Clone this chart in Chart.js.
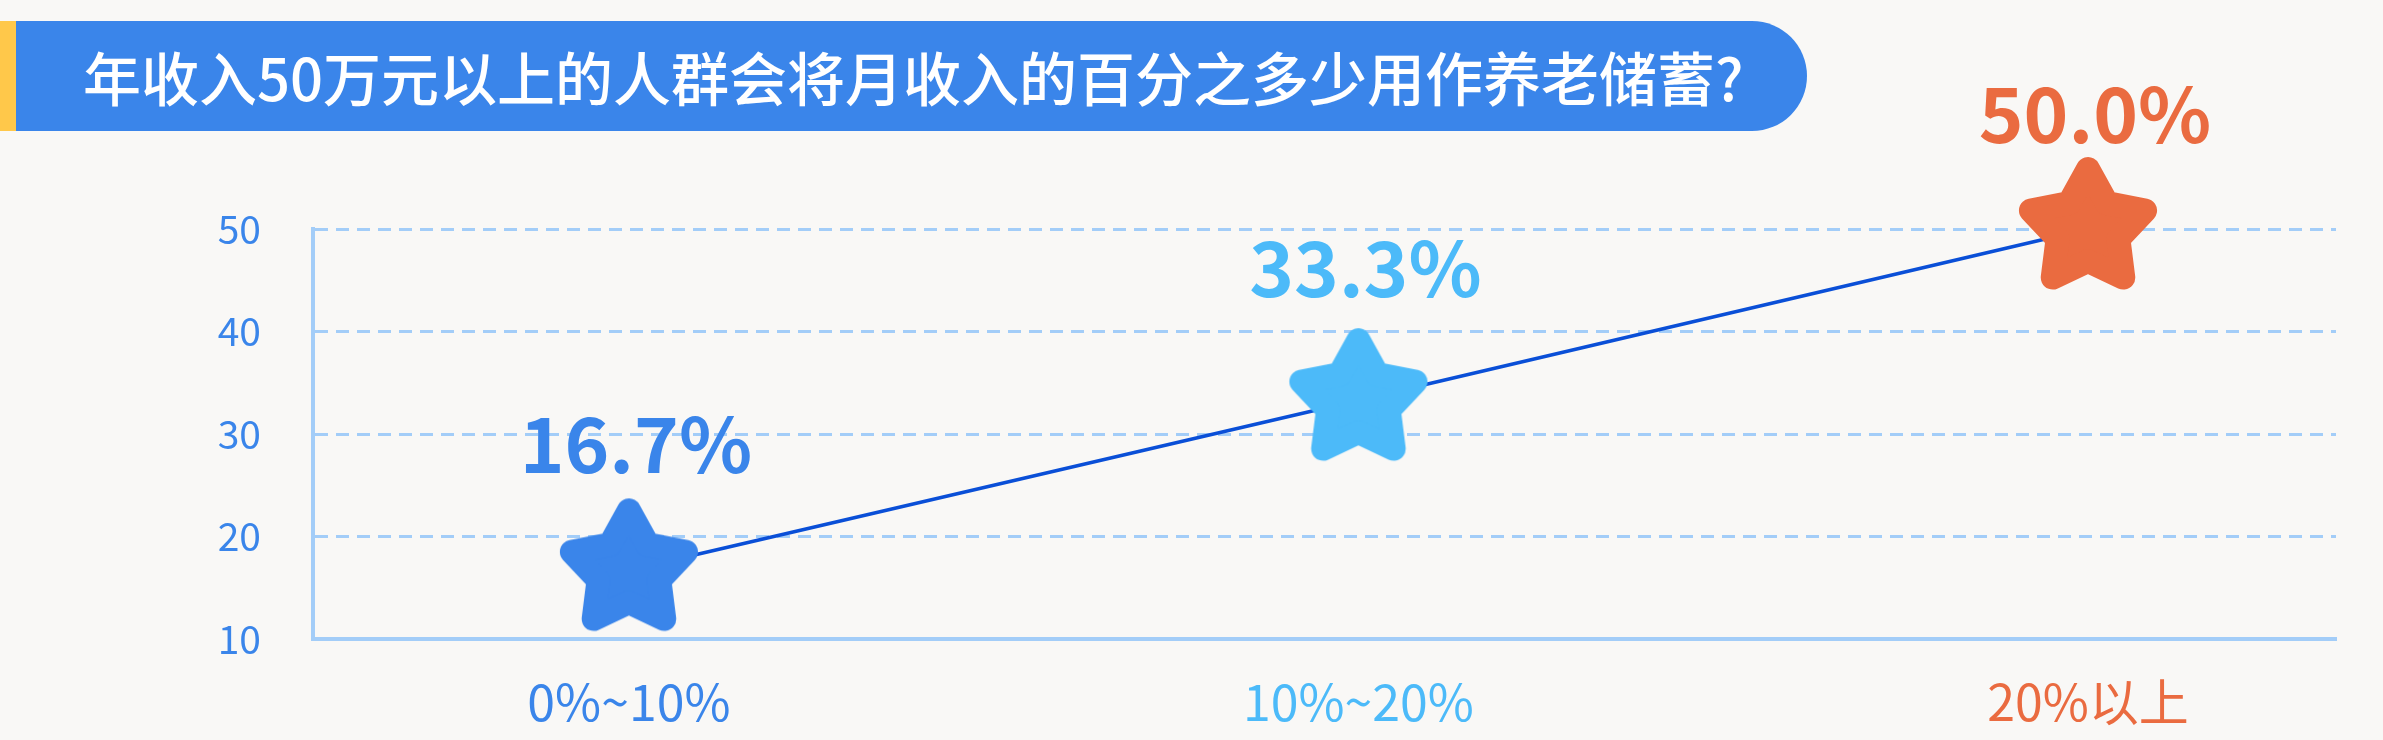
<!DOCTYPE html>
<html>
<head>
<meta charset="utf-8">
<script src="https://cdn.jsdelivr.net/npm/chart.js@4"></script>
<style>
  html, body { margin: 0; padding: 0; background: #f9f8f6; }
  #wrap { position: relative; width: 2383px; height: 740px; overflow: hidden; background: #f9f8f6; }
  #bar { position: absolute; left: 0; top: 21px; width: 16px; height: 110px; background: #ffc84a; }
  #title { position: absolute; left: 16px; top: 21px; width: 1791px; height: 110px; background: #3a85ea;
           border-radius: 0 55px 55px 0; color: #fff; font-family: "Noto Sans CJK SC", sans-serif;
           font-size: 58px; font-weight: 500; line-height: 110px; box-sizing: border-box; padding-left: 67px;
           white-space: nowrap; }
  canvas { position: absolute; left: 0; top: 0; }
</style>
</head>
<body>
<div id="wrap">
  <canvas id="c" width="2383" height="740"></canvas>
  <div id="bar"></div>
  <div id="title">年收入50万元以上的人群会将月收入的百分之多少用作养老储蓄?</div>
</div>
<script>
const categories = ["0%~10%", "10%~20%", "20%以上"];
const values = [16.7, 33.3, 50.0];
const valueLabels = ["16.7%", "33.3%", "50.0%"];
const yTicks = [10, 20, 30, 40, 50];
const colors = ["#3a85ea", "#4cbaf9", "#ea6b40"];
const labelOffsets = [97, 103, 86];

const FONT = '"Noto Sans CJK SC", "Noto Sans", sans-serif';

function makeStar(color) {
  const size = 150, c = size / 2;
  const cv = document.createElement('canvas');
  cv.width = size; cv.height = size;
  const g = cv.getContext('2d');
  const R = 60, r = 32, w = 24;
  g.beginPath();
  for (let i = 0; i < 10; i++) {
    const ang = -Math.PI / 2 + i * Math.PI / 5;
    const rad = i % 2 === 0 ? R : r;
    const px = c + rad * Math.cos(ang), py = c + rad * Math.sin(ang);
    if (i === 0) g.moveTo(px, py); else g.lineTo(px, py);
  }
  g.closePath();
  g.fillStyle = color; g.strokeStyle = color;
  g.lineWidth = w; g.lineJoin = 'round';
  g.fill(); g.stroke();
  return cv;
}
const stars = colors.map(makeStar);

const labelPlugin = {
  id: 'valueLabels',
  afterDatasetsDraw(chart) {
    const ctx = chart.ctx;
    const meta = chart.getDatasetMeta(0);
    ctx.save();
    ctx.font = 'bold 76px ' + FONT;
    ctx.textAlign = 'center';
    ctx.textBaseline = 'alphabetic';
    meta.data.forEach((pt, i) => {
      ctx.fillStyle = colors[i];
      ctx.fillText(valueLabels[i], pt.x + 7, pt.y - labelOffsets[i]);
    });
    ctx.restore();
  }
};

new Chart(document.getElementById('c'), {
  type: 'line',
  data: {
    datasets: [{
      data: values.map((v, i) => ({ x: i, y: v })),
      borderColor: '#0a4fd7',
      borderWidth: 3.5,
      tension: 0,
      fill: false,
      pointStyle: stars,
      pointRadius: 2,
      pointHoverRadius: 2,
      clip: false
    }]
  },
  options: {
    responsive: false,
    devicePixelRatio: 1,
    animation: false,
    layout: { padding: { top: 229, right: 47, left: 0, bottom: 0 } },
    plugins: { legend: { display: false }, tooltip: { enabled: false } },
    scales: {
      x: {
        type: 'linear',
        min: -0.433,
        max: 2.34,
        afterBuildTicks(scale) { scale.ticks = categories.map((c, i) => ({ value: i })); },
        afterFit(scale) { scale.height = 101; scale.paddingLeft = 0; scale.paddingRight = 0; },
        grid: { display: false, drawTicks: false },
        border: { display: true, color: '#a3cdf8', width: 4 },
        ticks: {
          padding: 33,
          autoSkip: false,
          maxRotation: 0,
          font: { family: FONT, size: 50 },
          color: (ctx) => colors[ctx.index],
          callback: (v) => categories[v]
        }
      },
      y: {
        min: 10,
        max: 50,
        afterBuildTicks(scale) { scale.ticks = yTicks.map(v => ({ value: v })); },
        afterFit(scale) { scale.width = 313; },
        grid: { display: true, color: '#a3cdf8', lineWidth: 3, drawTicks: false },
        border: { display: true, color: '#a3cdf8', width: 4, dash: [13, 8] },
        ticks: {
          padding: 52,
          font: { family: FONT, size: 39 },
          color: '#3a85ea'
        }
      }
    }
  },
  plugins: [labelPlugin]
});
</script>
</body>
</html>
